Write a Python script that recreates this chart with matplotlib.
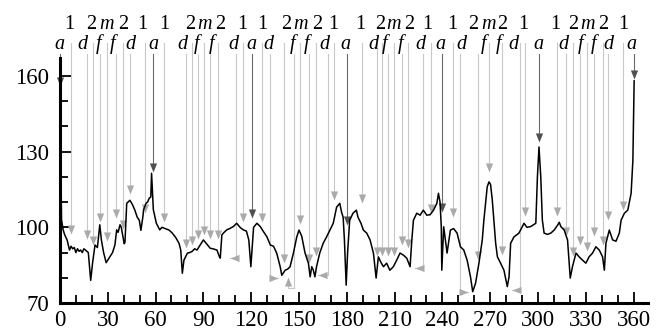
import matplotlib
matplotlib.use("Agg")
import matplotlib.pyplot as plt

plt.rcParams['font.family'] = ['Liberation Serif', 'DejaVu Serif']

# curve: angle (deg) vs value
curve_x = [0, 0.5, 1, 2, 3, 4.5, 6, 7, 8, 9, 10, 11, 12, 13, 14, 15, 16, 17.8, 19.3, 20.5, 22, 23.5,
           25, 26, 27.4, 29, 31, 33, 34.5, 35.6, 36.5, 37.7, 38.5, 40.3, 40.8, 41.9, 43.9, 45.5,
           47, 48.5, 49.8, 50.8, 52, 52.5, 54, 55, 56, 57, 57.5, 58.6, 60.5, 62.6, 64, 66, 68.5,
           70.5, 72.6, 74.7, 75.8, 76.8, 77.8, 80, 81.5, 83, 84.5, 86, 88, 90, 92, 94.3, 96, 98.5,
           100.3, 100.6, 101.6, 103, 104.7, 106.5, 108.8, 110.9, 113, 115, 117, 118.5, 119.8,
           121.5, 123.6, 125.7, 127.8, 129.9, 132, 134, 136, 138.2, 139.2, 141.3, 143, 144.4,
           146.5, 148.6, 150, 151.7, 153.8, 155.9, 157, 158, 159, 160, 161, 163, 165.2, 167.3,
           169.4, 171.5, 173.6, 175.6, 176.7, 177.7, 178.5, 179.6, 180.5, 181.8, 183.9, 186, 187,
           188.9, 190.4, 192.5, 194.6, 196.7, 198.4, 199.8, 201.5, 203, 205, 207, 209.2, 211.3,
           213.4, 215.5, 217.6, 219.7, 220.8, 221.8, 223.9, 226, 228, 230.2, 232.3, 234.4, 236.5,
           237.5, 238.5, 239.3, 239.6, 240.8, 242.9, 245, 247, 249.2, 251.3, 253.4, 255.5, 257.6,
           259, 260.8, 262.9, 265, 266, 268.1, 269.2, 270.2, 271.3, 272.3, 273.4, 274.5, 276.5,
           278.6, 280.7, 281.8, 282.8, 284.9, 288, 291.2, 293, 295.4, 298.6, 299.6, 300.6, 301.7,
           302.7, 303.8, 305.9, 308, 310.1, 312.2, 313.3, 314.3, 316.4, 318.5, 320.2, 321.6,
           323.8, 325.8, 327.9, 330, 332, 334.2, 336.3, 338.4, 340.5, 341.6, 342.6, 344.7, 346.8,
           348.9, 351, 352.1, 354.2, 356.3, 358.4, 359.5, 360, 360.3]
curve_y = [158, 130, 103, 99, 97, 95, 91, 92.5, 91.5, 92, 90, 91.5, 90.5, 91, 90, 91.5, 91, 90, 79,
           86, 93, 92, 101, 95, 90, 86, 88, 90, 93, 99, 98, 101, 100, 93.5, 94, 109.5, 110.7,
           109, 106.8, 104, 102.8, 98.8, 104, 107, 109.5, 110, 111.5, 112, 121.4, 107, 101.6,
           99, 100, 99.5, 98.9, 97.7, 96, 93.7, 91, 81.8, 87, 89.8, 90, 90.5, 91.5, 91, 93, 95,
           93.5, 91.7, 91.5, 91, 88, 87.8, 97, 98, 99, 99.5, 100.3, 101.6, 100, 99, 98.5, 95,
           84.4, 100, 101.6, 100.3, 98.2, 96.2, 93, 92.5, 89.8, 84.4, 81, 83, 83.5, 84.4, 89.8,
           96.2, 98.9, 96.5, 89.8, 85.8, 80.4, 84.4, 83, 80.4, 84.4, 89.8, 93.7, 96.2, 98.9,
           101.6, 108, 109.5, 106, 104, 95, 77.1, 90, 102.8, 105.6, 106.8, 104, 101.6, 98.9,
           97.7, 95, 89.8, 79.9, 88.3, 86, 84.4, 85.8, 83, 84.4, 87, 89.8, 89, 87.8, 84.4, 95,
           102.8, 105.6, 104.8, 106.8, 104.8, 105, 106.8, 109.5, 113.5, 110, 100, 83, 100.2,
           89.8, 98.9, 99.5, 97.7, 92.3, 91, 87, 80.4, 74.5, 77.9, 85.8, 95, 102.8, 116, 118,
           117, 110.7, 102.8, 93.7, 88.3, 85.8, 83, 76.5, 80.4, 93.7, 96.2, 97.7, 101.6, 100,
           100.3, 101.6, 120, 131.8, 120, 102.8, 97.7, 97.2, 97.7, 98.9, 100.8, 102, 100.3, 98.9,
           95, 79.9, 84.4, 89.8, 88.3, 87, 85.8, 88.3, 89.8, 92.3, 91, 88.3, 83, 93.7, 98.9, 95,
           94.5, 97.7, 102.8, 105.6, 106.8, 113.5, 126.5, 145, 158]

# top labels
row1_x = [5.7, 19.9, 29.3, 39.4, 51.9, 65.3, 81.7, 90.7, 100.5,
          114.1, 126.7, 141.8, 150.8, 161.2, 171.3, 188.4, 201, 209.4, 219.2, 230.7, 246.4,
          259.6, 269, 277.4, 291, 311, 322, 330.8, 340.6, 353.4]
row1_txt = ['1', '2', 'm', '2', '1', '1', '2', 'm', '2',
            '1', '1', '2', 'm', '2', '1', '1', '2', 'm', '2', '1', '1',
            '2', 'm', '2', '1', '1', '2', 'm', '2', '1']
row2_x = [0, 14.4, 24, 33, 44.5, 58.5, 76.6, 86, 95, 108.7, 120, 130.6, 145.7, 155, 166,
          179, 196.6, 204, 213.6, 226, 238.7, 252, 266, 275, 284.5, 300, 316, 326.6, 335,
          344, 358.6]
row2_txt = ['a', 'd', 'f', 'f', 'd', 'a', 'd', 'f', 'f', 'd', 'a', 'd', 'f', 'f', 'd',
            'a', 'd', 'f', 'f', 'd', 'a', 'd', 'f', 'f', 'd', 'a', 'd', 'f', 'f', 'd', 'a']

# marker lines: x, arrow tip y
mark_x = [0, 6.9, 16.8, 20.5, 25.1, 29.3, 35, 39.8, 44, 53.4, 58.6, 65.5, 79.1, 82.7, 86.6,
          90.7, 94.2, 99.1, 114.8, 120.4, 126.7, 140.9, 150.8, 156, 160.6, 171.7, 180.1,
          189.5, 198.9, 202.1, 205.8, 209.8, 214.6, 218.4, 232.8, 239.5, 246.7, 262.1, 269,
          277.4, 291.6, 300.4, 312, 317.8, 321.8, 326.6, 330.8, 335, 340.6, 344, 353.4, 360.1]
mark_y = [156, 97.5, 95.5, 93, 102, 94.5, 103.5, 99.5, 113, 105.5, 122, 102, 92, 93, 95.5,
          97, 95.5, 95.5, 102, 103.6, 102, 86, 101.5, 86, 88.5, 111, 100.8,
          109.8, 88.5, 88.5, 88.5, 88.5, 93, 92, 105.8, 106, 104, 87, 122,
          89, 104.3, 133.7, 104.3, 96.5, 88.5, 93, 90.5, 96.5, 93, 102.8, 107, 158.9]
mark_dark = [0, 58.6, 120.4, 180.1, 239.5, 300.4, 360.1]

# lines that bend sideways at the bottom: x, bottom y, arrow tip x, arrow tip y
side_x = [110.6, 131.5, 167.9, 227.8, 250.8, 288.9, 147]
side_y = [88, 80, 81, 83.8, 74.5, 75.1, 75.8]
side_tx = [106.6, 137, 162, 222.5, 256, 283.7, 143.4]
side_ty = [88, 80, 81, 83.8, 74.5, 75.1, 80.2]

LIGHT, LIGHT_HEAD = '#c8c8c8', '#aaaaaa'
DARK, DARK_HEAD = '#6a6a6a', '#505050'

tri_down = [(0, 0), (-0.4, 1), (0.4, 1)]
tri_up = [(0, 0), (-0.4, -1), (0.4, -1)]
tri_left = [(0, 0), (1, 0.4), (1, -0.4)]
tri_right = [(0, 0), (-1, 0.4), (-1, -0.4)]

fig = plt.figure(figsize=(6.66, 3.36), dpi=100)
ax = fig.add_axes([0.090, 0.098, 0.883, 0.729])
ax.set_xlim(0, 369)
ax.set_ylim(70, 167)


def top_of(x):
    near1 = any(abs(x - r) < 2.5 for r in row1_x)
    return 172.8 if near1 else 168.8


for x, y in zip(mark_x, mark_y):
    dark = x in mark_dark
    lc = DARK if dark else LIGHT
    hc = DARK_HEAD if dark else LIGHT_HEAD
    ax.plot([x, x], [top_of(x), y + 2], color=lc, lw=0.8, clip_on=False, zorder=1)
    ax.plot([x], [y], marker=tri_down, ms=13, color=hc, mec='none', ls='none',
            clip_on=False, zorder=2)

for x, y, tx, ty in zip(side_x, side_y, side_tx, side_ty):
    if ty != y:
        ax.plot([x, x, tx, tx], [top_of(x), y, y, ty - 2], color=LIGHT, lw=0.8,
                clip_on=False, zorder=1)
        mk = tri_up
    else:
        ax.plot([x, x, tx], [top_of(x), y, y], color=LIGHT, lw=0.8, clip_on=False, zorder=1)
        mk = tri_left if tx < x else tri_right
    ax.plot([tx], [ty], marker=mk, ms=13, color=LIGHT_HEAD, mec='none', ls='none', zorder=2)

ax.plot(curve_x, curve_y, color='black', lw=1.1, zorder=3, clip_on=False)

for x, t in zip(row1_x, row1_txt):
    ax.text(x, 178.7, t, fontsize=14.5, ha='center', va='baseline',
            style='italic' if t == 'm' else 'normal', clip_on=False)
for x, t in zip(row2_x, row2_txt):
    ax.text(x, 170.8, t, fontsize=14.5, ha='center', va='baseline', style='italic',
            clip_on=False)

for s in ['top', 'right']:
    ax.spines[s].set_visible(False)
for s in ['left', 'bottom']:
    ax.spines[s].set_linewidth(2.2)

ax.set_xticks(range(0, 361, 30))
ax.set_xticks(range(0, 361, 10), minor=True)
ax.set_yticks([70, 100, 130, 160])
ax.set_yticks(range(70, 167, 10), minor=True)
ax.tick_params(which='both', direction='in', width=1.3, labelsize=16.5)
ax.tick_params(which='major', length=8)
ax.tick_params(which='minor', length=6)
ax.tick_params(axis='x', pad=5)
ax.tick_params(axis='y', pad=8)

fig.savefig('out.png', dpi=100)
